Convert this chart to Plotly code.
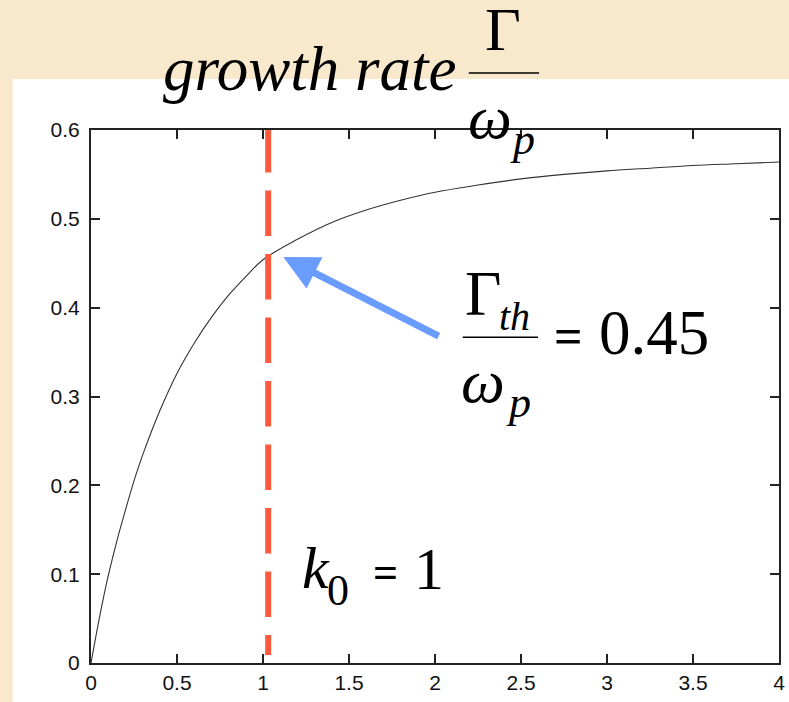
import plotly.graph_objects as go

# ---- data ----
k_vals = [0, 0.05, 0.1, 0.15, 0.2, 0.25, 0.3, 0.4, 0.5, 0.6, 0.7, 0.8, 0.9, 1.0,
          1.2, 1.4, 1.6, 1.8, 2.0, 2.25, 2.5, 2.75, 3.0, 3.25, 3.5, 3.75, 4.0]
growth = [0, 0.052, 0.098, 0.137, 0.172, 0.205, 0.234, 0.284, 0.326, 0.360, 0.389,
          0.414, 0.435, 0.454, 0.477, 0.496, 0.510, 0.521, 0.530, 0.538, 0.545,
          0.550, 0.554, 0.557, 0.560, 0.562, 0.564]
k0_line = 1.03
k0_span = [0.6034, 0.009]
arrow_tip = (1.118, 0.457)
arrow_tail = (2.03, 0.367)
x_ticks = [0, 0.5, 1, 1.5, 2, 2.5, 3, 3.5, 4]
x_tick_text = ["0", "0.5", "1", "1.5", "2", "2.5", "3", "3.5", "4"]
y_ticks = [0, 0.1, 0.2, 0.3, 0.4, 0.5, 0.6]
y_tick_text = ["0", "0.1", "0.2", "0.3", "0.4", "0.5", "0.6"]

W, H = 789, 702
L, R, T, B = 91, 785, 130, 663


def px(x):
    return (x - L) / (R - L)


def py(y):
    return (B - y) / (B - T)


SERIF = "Liberation Serif, Times New Roman, serif"
SANS = "Liberation Sans"

fig = go.Figure()
fig.add_trace(go.Scatter(x=k_vals, y=growth, mode="lines", line=dict(color="#333333", width=1.1),
                         line_shape="spline", showlegend=False, hoverinfo="skip"))

shapes = [
    # white panel
    dict(type="rect", xref="paper", yref="paper", x0=px(12), x1=px(800), y0=py(710), y1=py(79),
         fillcolor="white", line=dict(width=0), layer="below"),
    # red dashed k0 line
    dict(type="line", xref="x", yref="y", x0=k0_line, x1=k0_line, y0=k0_span[0], y1=k0_span[1],
         line=dict(color="#FF5A3C", width=6, dash="45.5px,18px")),
    # fraction bars
    dict(type="line", xref="paper", yref="paper", x0=px(472), x1=px(543), y0=py(73), y1=py(73),
         line=dict(color="black", width=1.5)),
    dict(type="line", xref="paper", yref="paper", x0=px(466), x1=px(542), y0=py(337.3), y1=py(337.3),
         line=dict(color="black", width=1.5)),
]


def txt(text, x, y, size, xanchor="center", italic=False, family=SERIF):
    if italic:
        text = "<i>" + text + "</i>"
    return dict(text=text, xref="paper", yref="paper", x=px(x), y=py(y), xanchor=xanchor,
                yanchor="middle", showarrow=False,
                font=dict(family=family, size=size, color="black"))


annotations = [
    txt("growth rate", 162, 69, 63, xanchor="left", italic=True),
    txt("Γ", 507, 29, 62),
    txt("ω", 493, 117, 62, italic=True),
    txt("p", 526, 139, 44, italic=True),
    txt("Γ", 486, 294, 63),
    txt("th", 518, 316, 40, italic=True),
    txt("ω", 486, 381, 62, italic=True),
    txt("p", 522, 402, 44, italic=True),
    txt("<b>=</b>", 573, 335.6, 50),
    txt("0.45", 601.5, 332.7, 63, xanchor="left"),
    txt("k", 318, 567.8, 60, italic=True),
    txt("0", 340, 590, 44),
    txt("<b>=</b>", 388.3, 572.6, 44),
    txt("1", 432, 568.8, 60),
    dict(text="", x=arrow_tip[0], y=arrow_tip[1], xref="x", yref="y",
         ax=arrow_tail[0], ay=arrow_tail[1], axref="x", ayref="y",
         showarrow=True, arrowhead=2, arrowsize=1.0, arrowwidth=7, arrowcolor="#6A9BFF",
         standoff=0, startstandoff=0),
]

axis_common = dict(showline=True, linecolor="#222222", linewidth=2, mirror="ticks",
                   ticks="inside", ticklen=9, tickwidth=1.5, tickcolor="#222222",
                   showgrid=False, zeroline=False, ticklabeloverflow="allow",
                   tickfont=dict(family=SANS, size=21, color="#111111"))

fig.update_layout(
    width=W, height=H,
    margin=dict(l=L, r=W - R, t=T, b=H - B, pad=0),
    paper_bgcolor="#F8E9CC",
    plot_bgcolor="white",
    shapes=shapes,
    annotations=annotations,
    xaxis=dict(range=[0, 4], tickvals=x_ticks, ticktext=x_tick_text, **axis_common),
    yaxis=dict(range=[0, 0.6], tickvals=y_ticks, ticktext=y_tick_text,
               ticklabelstandoff=5, **axis_common),
)

fig.write_html("out.html", config={"displayModeBar": False},
               post_script="document.body.style.margin='0';document.body.style.overflow='hidden';")
